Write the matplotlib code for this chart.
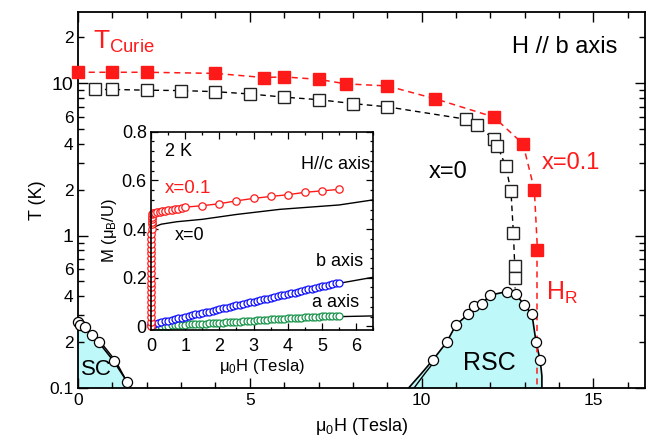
import numpy as np
import matplotlib.pyplot as plt
from matplotlib.ticker import FixedLocator, FixedFormatter, MultipleLocator, NullFormatter

plt.rcParams['font.family'] = ['Liberation Sans', 'DejaVu Sans']
plt.rcParams['mathtext.fontset'] = 'custom'
plt.rcParams['mathtext.rm'] = 'Liberation Sans'
plt.rcParams['mathtext.it'] = 'Liberation Sans:italic'

# ---- main panel data (field in T, temperature in K) ----
red_sq_H = [0, 1, 2, 4, 5.4, 6.0, 7.0, 7.8, 9.0, 10.4, 12.1, 12.95, 13.28, 13.37]
red_sq_T = [11.8, 11.8, 11.8, 11.6, 10.9, 11.0, 10.6, 9.9, 9.6, 7.9, 6.0, 4.0, 2.0, 0.81]
hr_H = [13.37, 13.37]
hr_T = [0.81, 0.1]

blk_sq_H = [0.5, 1.0, 2.0, 3.0, 4.0, 5.0, 6.0, 7.0, 8.0, 9.0, 11.3, 11.6, 12.1, 12.2,
            12.45, 12.6, 12.67, 12.71, 12.71]
blk_sq_T = [9.1, 9.1, 9.0, 8.95, 8.8, 8.5, 8.1, 7.8, 7.35, 7.0, 5.8, 5.3, 4.3, 3.9,
            2.85, 1.95, 1.04, 0.63, 0.53]
blk_end_H = [12.71, 12.72]
blk_end_T = [0.53, 0.45]

sc_H = [0.0, 0.07, 0.2, 0.42, 0.6, 1.04, 1.43]
sc_T = [0.27, 0.26, 0.25, 0.224, 0.20, 0.15, 0.11]
sc_line_H = [0.0, 0.07, 0.2, 0.42, 0.6, 1.04, 1.43, 1.47]
sc_line_T = [0.27, 0.26, 0.25, 0.224, 0.20, 0.15, 0.11, 0.1]
sc_line2_H = [0.45, 0.66, 1.1, 1.52]
sc_line2_T = [0.224, 0.20, 0.15, 0.1]

rsc_H = [10.32, 10.73, 11.0, 11.36, 11.51, 11.75, 11.99, 12.48, 12.74, 12.99, 13.21, 13.33, 13.45]
rsc_T = [0.152, 0.200, 0.26, 0.305, 0.347, 0.356, 0.407, 0.429, 0.413, 0.35, 0.305, 0.200, 0.152]
rsc_line_H = [9.62, 10.0, 10.32, 10.73, 11.0, 11.36, 11.51, 11.75, 11.99, 12.48, 12.74,
              12.99, 13.21, 13.33, 13.45, 13.5, 13.5]
rsc_line_T = [0.1, 0.125, 0.152, 0.200, 0.26, 0.305, 0.347, 0.356, 0.407, 0.429, 0.413,
              0.35, 0.305, 0.200, 0.152, 0.12, 0.1]
rsc_line2_H = [9.78, 10.1, 10.4]
rsc_line2_T = [0.1, 0.125, 0.152]

# ---- inset data (field in T, M in muB/U) ----
red_H = [0.0, 0.0, 0.0, 0.0, 0.0, 0.01, 0.01, 0.01, 0.01, 0.01, 0.01, 0.01, 0.01, 0.01,
         0.01, 0.01, 0.01, 0.01, 0.01, 0.01, 0.02, 0.02, 0.02, 0.03, 0.03, 0.04,
         0.07, 0.12, 0.18, 0.25, 0.32, 0.4, 0.5, 0.6, 0.7, 0.8, 0.9,
         1.0, 1.5, 2.0, 2.5, 3.0, 3.5, 4.0, 4.5, 5.0, 5.5]
red_M = [0.0, 0.02, 0.04, 0.06, 0.08, 0.10, 0.12, 0.14, 0.16, 0.18, 0.20, 0.22, 0.24, 0.26,
         0.28, 0.30, 0.32, 0.34, 0.36, 0.38, 0.40, 0.42, 0.43, 0.44, 0.45, 0.46,
         0.465, 0.468, 0.47, 0.472, 0.474, 0.476, 0.478, 0.48, 0.482, 0.484, 0.486,
         0.490, 0.496, 0.504, 0.516, 0.526, 0.534, 0.541, 0.551, 0.557, 0.563]

c0_H = [0.03, 0.3, 0.75, 1.5, 2.5, 3.77, 5.5, 6.5]
c0_M = [0.405, 0.42, 0.43, 0.44, 0.46, 0.481, 0.499, 0.52]
b0_H = [0.0, 5.5, 6.5]
b0_M = [0.005, 0.177, 0.202]
a0_H = [0.0, 5.5, 6.5]
a0_M = [0.0, 0.040, 0.043]

ab_H = [0.0, 0.1, 0.2, 0.3, 0.4, 0.5, 0.6, 0.7, 0.8, 0.9,
        1.0, 1.1, 1.2, 1.3, 1.4, 1.5, 1.6, 1.7, 1.8, 1.9,
        2.0, 2.1, 2.2, 2.3, 2.4, 2.5, 2.6, 2.7, 2.8, 2.9,
        3.0, 3.1, 3.2, 3.3, 3.4, 3.5, 3.6, 3.7, 3.8, 3.9,
        4.0, 4.1, 4.2, 4.3, 4.4, 4.5, 4.6, 4.7, 4.8, 4.9,
        5.0, 5.1, 5.2, 5.3, 5.4, 5.5]
b_M = [0.008, 0.011, 0.014, 0.017, 0.021, 0.024, 0.027, 0.030, 0.033, 0.036,
       0.039, 0.042, 0.046, 0.049, 0.052, 0.055, 0.058, 0.061, 0.064, 0.067,
       0.071, 0.074, 0.077, 0.080, 0.083, 0.086, 0.089, 0.092, 0.096, 0.099,
       0.102, 0.105, 0.108, 0.111, 0.114, 0.117, 0.121, 0.124, 0.127, 0.130,
       0.133, 0.136, 0.139, 0.142, 0.146, 0.149, 0.152, 0.155, 0.158, 0.161,
       0.164, 0.167, 0.171, 0.174, 0.177, 0.180]
a_M = [0.000, 0.001, 0.001, 0.002, 0.003, 0.003, 0.004, 0.005, 0.005, 0.006,
       0.007, 0.008, 0.008, 0.009, 0.010, 0.010, 0.011, 0.012, 0.013, 0.013,
       0.014, 0.015, 0.016, 0.017, 0.018, 0.019, 0.020, 0.021, 0.022, 0.023,
       0.024, 0.025, 0.026, 0.027, 0.028, 0.029, 0.030, 0.030, 0.031, 0.032,
       0.033, 0.034, 0.035, 0.035, 0.036, 0.037, 0.038, 0.039, 0.039, 0.040,
       0.041, 0.042, 0.042, 0.043, 0.044, 0.044]

y_minor = [0.2, 0.3, 0.4, 0.5, 0.6, 0.7, 0.8, 0.9, 2, 3, 4, 5, 6, 7, 8, 9, 20]
y_minor_lbl = ['2', '', '4', '', '6', '', '', '', '2', '', '4', '', '6', '', '', '', '2']

RED = '#ff1a1a'
CYAN = '#bff8f8'

fig = plt.figure(figsize=(6.5, 4.47), dpi=100)
ax = fig.add_axes([0.12, 0.132, 0.8723, 0.841])
ax.set_yscale('log')
ax.set_xlim(0, 16.5)
ax.set_ylim(0.1, 29.3)

# superconducting domes
ax.fill(sc_line_H + [0.0], sc_line_T + [0.1], color=CYAN, lw=0, zorder=1)
ax.plot(sc_line_H, sc_line_T, 'k-', lw=1.2, zorder=2)
ax.plot(sc_line2_H, sc_line2_T, 'k-', lw=1.0, zorder=2)
ax.fill(rsc_line_H, rsc_line_T, color=CYAN, lw=0, zorder=1)
ax.plot(rsc_line_H, rsc_line_T, 'k-', lw=1.2, zorder=2)
ax.plot(rsc_line2_H, rsc_line2_T, 'k-', lw=1.0, zorder=2)
ax.plot(sc_H, sc_T, 'o', ms=7.3, mfc='white', mec='k', mew=0.9, zorder=4, clip_on=False)
ax.plot(rsc_H, rsc_T, 'o', ms=7.3, mfc='white', mec='k', mew=0.9, zorder=4)

# Curie temperature lines
ax.plot(blk_sq_H, blk_sq_T, '--', color='k', lw=1.0, dashes=(4, 3), zorder=3)
ax.plot(blk_end_H, blk_end_T, '--', color='k', lw=1.0, dashes=(4, 3), zorder=3)
ax.plot(blk_sq_H, blk_sq_T, 's', ms=8, mfc='white', mec='#222222', mew=1.0, zorder=5)
ax.plot(red_sq_H, red_sq_T, '--', color=RED, lw=1.1, dashes=(4, 3), zorder=3)
ax.plot(hr_H, hr_T, '--', color=RED, lw=1.1, dashes=(4, 3), zorder=3)
ax.plot(red_sq_H, red_sq_T, 's', ms=8.5, color=RED, mec=RED, zorder=5, clip_on=False)

# ticks
ax.xaxis.set_major_locator(MultipleLocator(5))
ax.xaxis.set_minor_locator(MultipleLocator(1))
ax.yaxis.set_major_locator(FixedLocator([0.1, 1, 10]))
ax.yaxis.set_major_formatter(FixedFormatter(['0.1', '1', '10']))
ax.yaxis.set_minor_locator(FixedLocator(y_minor))
ax.yaxis.set_minor_formatter(FixedFormatter(y_minor_lbl))
ax.tick_params(which='both', direction='in', top=True, right=True, width=1.0)
ax.tick_params(which='major', length=7.5, labelsize=12.5)
ax.tick_params(which='minor', length=4.5, labelsize=12.5)
for lbl in ax.get_yticklabels():
    if lbl.get_text() in ('1', '10'):
        lbl.set_fontsize(14)
for s in ax.spines.values():
    s.set_linewidth(1.3)

ax.set_xlabel('μ$_{\\rm 0}$H (Tesla)', fontsize=13, labelpad=6)
ax.set_ylabel('T (K)', fontsize=13, labelpad=2)

ax.text(0.45, 18.6, 'T$_{\\rm Curie}$', color=RED, fontsize=19, va='center')
ax.text(15.7, 17.3, 'H // b axis', fontsize=17, ha='right', va='center')
ax.text(13.5, 3.0, 'x=0.1', color=RED, fontsize=17, va='center')
ax.text(10.2, 2.6, 'x=0', color='k', fontsize=17, va='center')
ax.text(13.62, 0.42, 'H$_{\\rm R}$', color=RED, fontsize=18, va='center')
ax.text(11.97, 0.146, 'RSC', fontsize=18, ha='center', va='center')
ax.text(0.08, 0.133, 'SC', fontsize=16, va='center')

# ---- inset ----
axin = fig.add_axes([0.2323, 0.2617, 0.342, 0.4436])
axin.set_zorder(10)
axin.set_facecolor('white')
axin.set_xlim(0, 6.5)
axin.set_ylim(-0.015, 0.8)

axin.plot(c0_H, c0_M, 'k-', lw=1.0)
axin.plot(b0_H, b0_M, 'k-', lw=1.0)
axin.plot(a0_H, a0_M, 'k-', lw=1.0)
axin.plot(ab_H, a_M, 'o', ms=5, mfc='white', mec='#17934a', mew=0.9, clip_on=False)
axin.plot(ab_H, b_M, 'o', ms=5, mfc='white', mec='#1010ff', mew=0.9, clip_on=False)
axin.plot(red_H, red_M, 'o-', color=RED, lw=1.0, ms=5.3, mfc='white', mec=RED, mew=0.9,
          clip_on=False)

axin.xaxis.set_major_locator(MultipleLocator(1))
axin.xaxis.set_minor_locator(MultipleLocator(0.5))
axin.yaxis.set_major_locator(MultipleLocator(0.2))
axin.yaxis.set_minor_locator(MultipleLocator(0.04))
axin.set_yticks([0, 0.2, 0.4, 0.6, 0.8])
axin.set_yticklabels(['0', '0.2', '0.4', '0.6', '0.8'])
axin.tick_params(which='both', direction='in', top=True, right=True, width=0.9,
                 labelsize=13)
axin.tick_params(which='major', length=5)
axin.tick_params(axis='x', which='major', pad=6)
axin.tick_params(axis='y', which='major', pad=3)
axin.tick_params(which='minor', length=2.5)
for s in axin.spines.values():
    s.set_linewidth(1.2)

axin.set_xlabel('μ$_{\\rm 0}$H (Tesla)', fontsize=12, labelpad=1)
axin.set_ylabel('M (μ$_{\\rm B}$/U)', fontsize=12, labelpad=2)

axin.text(0.4, 0.72, '2 K', fontsize=13, va='center')
axin.text(6.4, 0.665, 'H//c axis', fontsize=13, ha='right', va='center')
axin.text(0.41, 0.565, 'x=0.1', color=RED, fontsize=13.5, va='center')
axin.text(0.7, 0.375, 'x=0', fontsize=13, va='center')
axin.text(6.2, 0.265, 'b axis', fontsize=13, ha='right', va='center')
axin.text(6.1, 0.10, 'a axis', fontsize=13, ha='right', va='center')

fig.savefig('out.png', dpi=100)
